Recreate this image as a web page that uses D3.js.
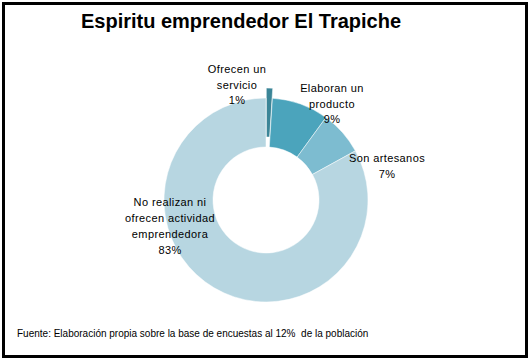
<!DOCTYPE html>
<html>
<head>
<meta charset="utf-8">
<script src="https://cdn.jsdelivr.net/npm/d3@7"></script>
<style>
  body { margin: 0; background: #fff; }
  text { font-family: "Liberation Sans", Arial, sans-serif; }
</style>
</head>
<body>
<svg id="chart"></svg>
<script>
// data
const categories = ["Ofrecen un servicio", "Elaboran un producto", "Son artesanos", "No realizan ni ofrecen actividad emprendedora"];
const values = [1, 9, 7, 83];
const labelLines = [
    ["Ofrecen un", "servicio", "1%"],
    ["Elaboran un", "producto", "9%"],
    ["Son artesanos", "7%"],
    ["No realizan ni", "ofrecen actividad", "emprendedora", "83%"]
];
const colors = ["#3b8597", "#4ba4bc", "#7dbcd0", "#b7d6e1"];
const exploded = [10, 0, 0, 0];

const width = 529, height = 360;

let svg = d3.select("#chart")
    .attr("width", width)
    .attr("height", height);

// frame
svg.append("rect")
    .attr("x", 3.5).attr("y", 3.5)
    .attr("width", width - 6).attr("height", height - 7)
    .attr("fill", "#fff")
    .attr("stroke", "#000")
    .attr("stroke-width", 3);

svg.append("text")
    .attr("x", 241).attr("y", 28)
    .attr("text-anchor", "middle")
    .attr("font-size", 20)
    .attr("font-weight", "bold")
    .text("Espiritu emprendedor El Trapiche");

const cx = 266, cy = 200;
const outerR = 102, innerR = 53;

const pie = d3.pie().sort(null).value(d => d);
const arc = d3.arc().innerRadius(innerR).outerRadius(outerR);
const arcs = pie(values);

let chart = svg.append("g")
    .attr("transform", `translate(${cx}, ${cy})`);

chart.selectAll("path")
    .data(arcs)
  .join("path")
    .attr("d", arc)
    .attr("fill", (d, i) => colors[i])
    .attr("stroke", "#fff")
    .attr("stroke-width", 0.5)
    .attr("transform", (d, i) => {
        const a = (d.startAngle + d.endAngle) / 2;
        const off = exploded[i];
        return `translate(${Math.sin(a) * off}, ${-Math.cos(a) * off})`;
    });

// label placement, relative to the donut centre (best-fit style like the original)
const labelPos = [[-29, -127], [66, -108], [121, -38], [-96, 6]];
const lineH = [15.5, 15.5, 16, 16];

labelLines.forEach((lines, i) => {
    let t = chart.append("text")
        .attr("text-anchor", "middle")
        .attr("font-size", 11)
        .attr("letter-spacing", 0.4)
        .attr("fill", "#000");
    lines.forEach((ln, j) => {
        t.append("tspan")
            .attr("x", labelPos[i][0])
            .attr("y", labelPos[i][1] + j * lineH[i])
            .text(ln);
    });
});

svg.append("text")
    .attr("x", 17).attr("y", 337)
    .attr("font-size", 10)
    .text("Fuente: Elaboración propia sobre la base de encuestas al 12%  de la población")
    .attr("xml:space", "preserve");
</script>
</body>
</html>
